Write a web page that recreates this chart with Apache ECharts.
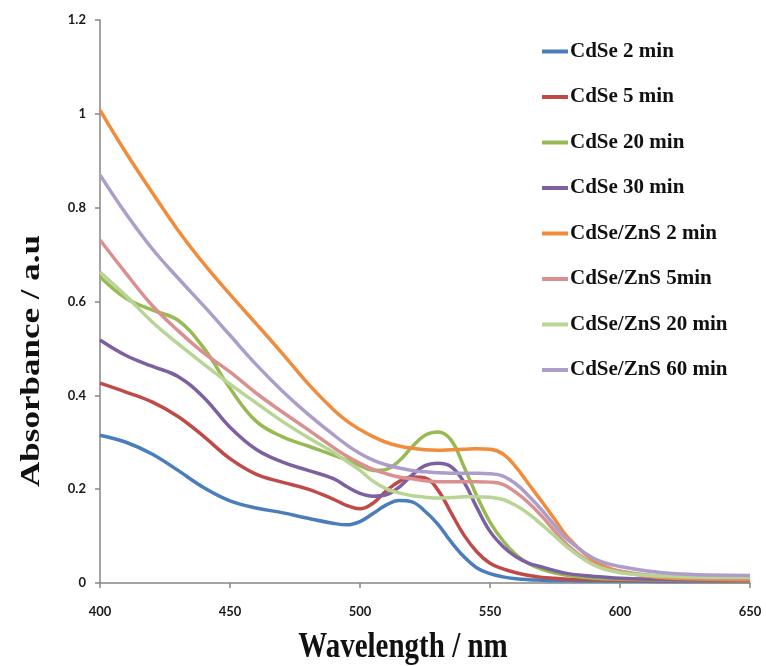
<!DOCTYPE html>
<html>
<head>
<meta charset="utf-8">
<script src="https://cdn.jsdelivr.net/npm/echarts@6/dist/echarts.min.js"></script>
<style>
  html, body { margin: 0; padding: 0; background: #fff; }
  #chart { width: 766px; height: 666px; }
</style>
</head>
<body>
<div id="chart"></div>
<script>
// wavelengths (nm) shared by every spectrum
const wavelengths = [400, 410, 420, 430, 440, 450, 460, 470, 480, 490, 495, 500, 505, 510, 515, 520, 525, 530, 535, 540, 545, 550, 555, 560, 565, 570, 575, 580, 590, 600, 620, 650];

const seriesNames = ["CdSe 2 min", "CdSe 5 min", "CdSe 20 min", "CdSe 30 min", "CdSe/ZnS 2 min", "CdSe/ZnS 5min", "CdSe/ZnS 20 min", "CdSe/ZnS 60 min"];

const cdse2 = [0.315, 0.300, 0.275, 0.240, 0.203, 0.175, 0.160, 0.150, 0.138, 0.127, 0.124, 0.131, 0.148, 0.166, 0.176, 0.173, 0.153, 0.125, 0.088, 0.056, 0.032, 0.020, 0.013, 0.009, 0.007, 0.006, 0.005, 0.005, 0.004, 0.004, 0.003, 0.003];
const cdse5 = [0.426, 0.407, 0.386, 0.355, 0.312, 0.265, 0.232, 0.215, 0.200, 0.178, 0.165, 0.158, 0.170, 0.196, 0.216, 0.226, 0.224, 0.198, 0.150, 0.102, 0.066, 0.042, 0.030, 0.022, 0.016, 0.012, 0.010, 0.008, 0.007, 0.006, 0.005, 0.004];
const cdse20 = [0.653, 0.607, 0.582, 0.560, 0.500, 0.415, 0.345, 0.312, 0.292, 0.272, 0.262, 0.250, 0.240, 0.242, 0.260, 0.290, 0.315, 0.322, 0.305, 0.248, 0.185, 0.130, 0.090, 0.060, 0.041, 0.029, 0.021, 0.016, 0.010, 0.008, 0.006, 0.005];
const cdse30 = [0.518, 0.485, 0.462, 0.440, 0.395, 0.332, 0.285, 0.258, 0.240, 0.222, 0.205, 0.191, 0.185, 0.188, 0.204, 0.230, 0.250, 0.255, 0.248, 0.215, 0.160, 0.110, 0.078, 0.056, 0.042, 0.034, 0.026, 0.020, 0.014, 0.010, 0.007, 0.006];
const zns2 = [1.008, 0.917, 0.833, 0.752, 0.680, 0.615, 0.553, 0.490, 0.425, 0.368, 0.345, 0.327, 0.312, 0.300, 0.292, 0.287, 0.284, 0.283, 0.284, 0.285, 0.286, 0.285, 0.275, 0.247, 0.210, 0.173, 0.135, 0.097, 0.047, 0.025, 0.010, 0.007];
const zns5 = [0.731, 0.660, 0.592, 0.538, 0.490, 0.450, 0.405, 0.365, 0.327, 0.288, 0.270, 0.255, 0.242, 0.233, 0.226, 0.222, 0.218, 0.216, 0.216, 0.216, 0.216, 0.215, 0.210, 0.193, 0.170, 0.142, 0.110, 0.080, 0.040, 0.025, 0.013, 0.010];
const zns20 = [0.663, 0.612, 0.557, 0.510, 0.466, 0.424, 0.384, 0.345, 0.310, 0.278, 0.259, 0.240, 0.217, 0.201, 0.192, 0.186, 0.183, 0.181, 0.182, 0.184, 0.184, 0.183, 0.178, 0.165, 0.147, 0.124, 0.100, 0.075, 0.038, 0.022, 0.014, 0.012];
const zns60 = [0.870, 0.787, 0.713, 0.650, 0.590, 0.528, 0.466, 0.410, 0.360, 0.315, 0.294, 0.276, 0.262, 0.252, 0.245, 0.240, 0.237, 0.235, 0.234, 0.234, 0.234, 0.233, 0.228, 0.211, 0.185, 0.155, 0.122, 0.092, 0.052, 0.035, 0.020, 0.016];

const allValues = [cdse2, cdse5, cdse20, cdse30, zns2, zns5, zns20, zns60];
const colors = ["#4A7EBB", "#BE4B48", "#98B954", "#7D60A0", "#F08C3C", "#D9908E", "#B9D595", "#AC9DCB"];

const yTicks = [0, 0.2, 0.4, 0.6, 0.8, 1, 1.2];

let myChart = echarts.init(document.getElementById("chart"));
const axisColor = "#868686";
const labelStyle = {
  color: "#1a1a1a",
  fontFamily: "Lato",
  fontWeight: "bold",
  fontSize: 13
};

let series = seriesNames.map((name, i) => ({
  name: name,
  type: "line",
  data: wavelengths.map((w, j) => [w, allValues[i][j]]),
  smooth: 0.4,
  showSymbol: false,
  lineStyle: { width: 3.5, color: colors[i] },
  itemStyle: { color: colors[i] }
}));

let option = {
  backgroundColor: "#fff",
  animation: false,
  grid: {
    left: 100,
    right: 16,
    top: 20,
    bottom: 83,
    containLabel: false,
    outerBoundsMode: "none"
  },
  legend: {
    orient: "vertical",
    left: 537,
    top: 36,
    icon: "rect",
    itemWidth: 26,
    itemHeight: 4,
    itemGap: 24.5,
    textStyle: {
      color: "#111",
      fontFamily: "Liberation Serif",
      fontWeight: "bold",
      fontSize: 21,
      lineHeight: 20,
      padding: [0, 0, 0, -3]
    },
    data: seriesNames
  },
  xAxis: {
    type: "value",
    min: 400,
    max: 650,
    interval: 50,
    axisLine: { lineStyle: { color: axisColor, width: 1.5 } },
    axisTick: { show: true, length: 5, lineStyle: { color: axisColor, width: 1.5 } },
    axisLabel: Object.assign({ margin: 22 }, labelStyle),
    splitLine: { show: false }
  },
  yAxis: {
    type: "value",
    min: 0,
    max: 1.2,
    interval: 0.2,
    axisLine: { show: true, lineStyle: { color: axisColor, width: 1.5 } },
    axisTick: { show: true, length: 5, lineStyle: { color: axisColor, width: 1.5 } },
    axisLabel: Object.assign({
      margin: 14,
      formatter: v => {
        let t = yTicks.find(x => Math.abs(x - v) < 1e-6);
        return t === undefined ? "" : String(t);
      }
    }, labelStyle),
    splitLine: { show: false }
  },
  graphic: [
    {
      type: "text",
      x: 32,
      y: 361,
      rotation: Math.PI / 2,
      scaleX: 1.25,
      style: {
        text: "Absorbance / a.u",
        font: "bold 28px 'Liberation Serif'",
        fill: "#111",
        align: "center",
        verticalAlign: "middle"
      }
    },
    {
      type: "text",
      x: 403,
      y: 648,
      scaleY: 1.2,
      style: {
        text: "Wavelength / nm",
        font: "bold 29px 'Liberation Serif'",
        fill: "#111",
        align: "center",
        verticalAlign: "middle"
      }
    }
  ],
  series: series
};
myChart.setOption(option);
</script>
</body>
</html>
